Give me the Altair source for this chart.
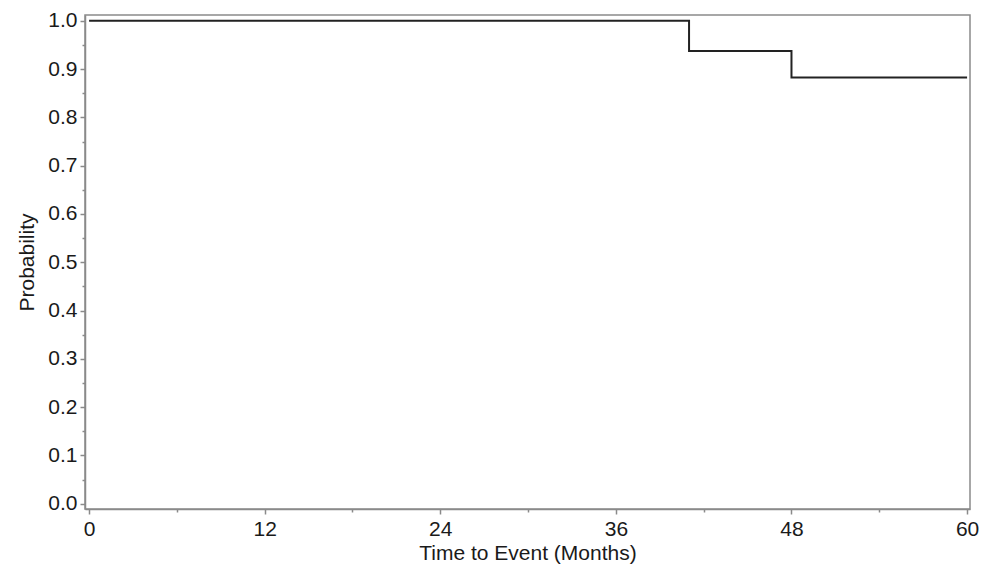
import altair as alt
import pandas as pd

# Kaplan-Meier style survival estimate
months = [0, 41, 48, 60]
probability = [1.0, 0.9375, 0.8824, 0.8824]

x_ticks = [0, 6, 12, 18, 24, 30, 36, 42, 48, 54, 60]
y_ticks = [round(i * 0.05, 2) for i in range(21)]

df = pd.DataFrame({"month": months, "prob": probability})

FONT = "Liberation Sans"
FRAME = "#8a8a8a"

chart = alt.Chart(df).mark_line(
    interpolate="step-after", color="#222222", strokeWidth=2
).encode(
    x=alt.X(
        "month:Q",
        scale=alt.Scale(domain=[-0.28, 60.2], nice=False, zero=False),
        axis=alt.Axis(
            title="Time to Event (Months)",
            values=x_ticks,
            labelExpr="datum.value % 12 === 0 ? datum.label : ''",
            tickSize={"condition": {"test": "datum.value % 12 !== 0", "value": 3}, "value": 5},
            labelPadding=4,
            titlePadding=3,
            grid=False,
        ),
    ),
    y=alt.Y(
        "prob:Q",
        scale=alt.Scale(domain=[-0.011, 1.012], nice=False, zero=False),
        axis=alt.Axis(
            title="Probability",
            values=y_ticks,
            format=".1f",
            labelExpr="round(datum.value * 100) % 10 === 0 ? format(datum.value, '.1f') : ''",
            tickSize={"condition": {"test": "round(datum.value * 100) % 10 !== 0", "value": 3}, "value": 5},
            labelPadding=3,
            titlePadding=10,
            grid=False,
        ),
    ),
).properties(
    width=885,
    height=494,
    autosize=alt.AutoSizeParams(type="none"),
    padding={"left": 77, "top": 7, "right": 10, "bottom": 60},
).configure_view(
    stroke=FRAME, strokeWidth=1.5
).configure_axis(
    domainColor=FRAME,
    domainWidth=1.5,
    tickColor=FRAME,
    tickWidth=1.5,
    labelFont=FONT,
    titleFont=FONT,
    labelFontSize=21,
    titleFontSize=21,
    titleFontWeight="normal",
    labelColor="#1a1a1a",
    titleColor="#1a1a1a",
)

chart.save("out.html", embed_options={"renderer": "svg", "actions": False})
